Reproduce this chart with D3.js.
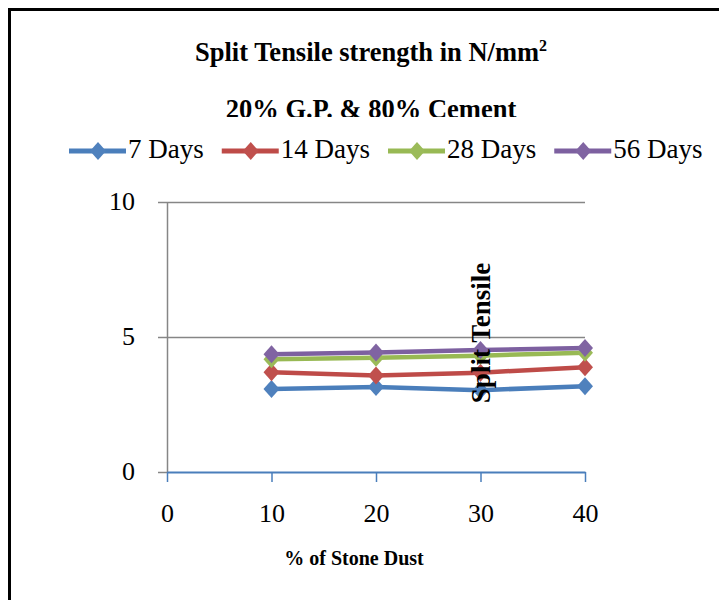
<!DOCTYPE html>
<html>
<head>
<meta charset="utf-8">
<script src="https://cdn.jsdelivr.net/npm/d3@7"></script>
<style>
  body { margin: 0; background: #fff; }
  svg { display: block; }
  text { font-family: "Liberation Serif", "Times New Roman", serif; }
</style>
</head>
<body>
<svg id="chart" width="719" height="600"></svg>
<script>
// data
var stoneDust = [10, 20, 30, 40];
var days7  = [3.07, 3.15, 3.03, 3.18];
var days14 = [3.69, 3.57, 3.68, 3.88];
var days28 = [4.18, 4.23, 4.31, 4.42];
var days56 = [4.36, 4.43, 4.52, 4.59];
var seriesNames = ["7 Days", "14 Days", "28 Days", "56 Days"];
var xTicks = [0, 10, 20, 30, 40];
var yTicks = [0, 5, 10];

var lineColors   = ["#4A7EBB", "#BE4B48", "#98B954", "#7D60A0"];
var markerColors = ["#4F81BD", "#C0504D", "#9BBB59", "#8064A2"];

var series = [days7, days14, days28, days56].map(function(vals, i) {
    return {
        name: seriesNames[i],
        values: vals.map(function(v, j) { return {x: stoneDust[j], v: v}; })
    };
});

var svg = d3.select("#chart");
var diamond = "M0,-9L8,0L0,9L-8,0Z";

// outer frame (runs off the right / bottom edges)
svg.append("rect")
    .attr("x", 9.5).attr("y", 9.5)
    .attr("width", 760).attr("height", 640)
    .attr("fill", "none")
    .attr("stroke", "#000")
    .attr("stroke-width", 3);

var plot = {left: 167, right: 585, top: 202, bottom: 472};

var x = d3.scaleLinear().domain([0, 40]).range([plot.left, plot.right]);
var y = d3.scaleLinear().domain([0, 10]).range([plot.bottom, plot.top]);

// gridlines
svg.append("g")
    .attr("transform", "translate(" + plot.left + ",0)")
    .call(d3.axisLeft(y).tickValues([5, 10]).tickSize(-(plot.right - plot.left)).tickFormat(""))
    .call(function(g) {
        g.select(".domain").remove();
        g.selectAll(".tick line").attr("stroke", "#868686").attr("stroke-width", 1.5);
    });

// y axis
svg.append("g")
    .attr("transform", "translate(" + plot.left + ",0)")
    .call(d3.axisLeft(y).tickValues(yTicks).tickSize(9).tickSizeOuter(0).tickPadding(23))
    .call(function(g) {
        g.select(".domain").attr("stroke", "#868686").attr("stroke-width", 1.5);
        g.selectAll(".tick line").attr("stroke", "#868686").attr("stroke-width", 1.5);
        g.selectAll(".tick text")
            .attr("fill", "#000")
            .attr("font-size", 26)
            .attr("font-family", "'Liberation Serif', 'Times New Roman', serif")
            .attr("dy", "0.3em");
    });

// x axis
svg.append("g")
    .attr("transform", "translate(0," + plot.bottom + ")")
    .call(d3.axisBottom(x).tickValues(xTicks).tickSize(10).tickSizeOuter(0).tickPadding(22))
    .call(function(g) {
        g.select(".domain").attr("stroke", "#4A7EBB").attr("stroke-width", 2);
        g.selectAll(".tick line").attr("stroke", "#4A7EBB").attr("stroke-width", 1.5);
        g.selectAll(".tick text")
            .attr("fill", "#000")
            .attr("font-size", 26)
            .attr("font-family", "'Liberation Serif', 'Times New Roman', serif");
    });

// lines
var line = d3.line()
    .x(function(d) { return x(d.x); })
    .y(function(d) { return y(d.v); });

var sg = svg.selectAll("g.series")
    .data(series)
    .enter().append("g")
    .attr("class", "series");

sg.append("path")
    .attr("d", function(d) { return line(d.values); })
    .attr("fill", "none")
    .attr("stroke", function(d, i) { return lineColors[i]; })
    .attr("stroke-width", 4.5)
    .attr("stroke-linejoin", "round");

sg.each(function(d, i) {
    d3.select(this).selectAll("path.marker")
        .data(d.values)
        .enter().append("path")
        .attr("class", "marker")
        .attr("d", diamond)
        .attr("transform", function(p) { return "translate(" + x(p.x) + "," + y(p.v) + ")"; })
        .attr("fill", markerColors[i]);
});

// y axis title (sits inside the plot)
svg.append("text")
    .attr("transform", "translate(490,333) rotate(-90)")
    .attr("text-anchor", "middle")
    .attr("font-size", 27)
    .attr("font-weight", "bold")
    .attr("fill", "#000")
    .text("Split Tensile");

// x axis title
svg.append("text")
    .attr("x", 354).attr("y", 565)
    .attr("text-anchor", "middle")
    .attr("font-size", 20)
    .attr("font-weight", "bold")
    .text("% of Stone Dust");

// chart title
var title = svg.append("text")
    .attr("x", 371).attr("y", 61)
    .attr("text-anchor", "middle")
    .attr("font-size", 26.5)
    .attr("font-weight", "bold");
title.append("tspan").text("Split Tensile strength in N/mm");
title.append("tspan").attr("font-size", 16).attr("dy", -10).text("2");

svg.append("clipPath").attr("id", "subClip")
    .append("rect").attr("x", 0).attr("y", 80).attr("width", 719).attr("height", 37);

svg.append("text")
    .attr("clip-path", "url(#subClip)")
    .attr("x", 371).attr("y", 118)
    .attr("text-anchor", "middle")
    .attr("font-size", 26.5)
    .attr("font-weight", "bold")
    .text("20% G.P. & 80% Cement");

// legend
var legend = svg.append("g").attr("transform", "translate(0,151)");
var lx = 69;
series.forEach(function(s, i) {
    var item = legend.append("g").attr("transform", "translate(" + lx + ",0)");
    item.append("line")
        .attr("x1", 0).attr("x2", 57)
        .attr("stroke", lineColors[i])
        .attr("stroke-width", 5);
    item.append("path")
        .attr("d", diamond)
        .attr("transform", "translate(29,0)")
        .attr("fill", markerColors[i]);
    var t = item.append("text")
        .attr("x", 59).attr("y", 7)
        .attr("font-size", 27)
        .text(s.name);
    lx += 59 + t.node().getComputedTextLength() + 18;
});
</script>
</body>
</html>
